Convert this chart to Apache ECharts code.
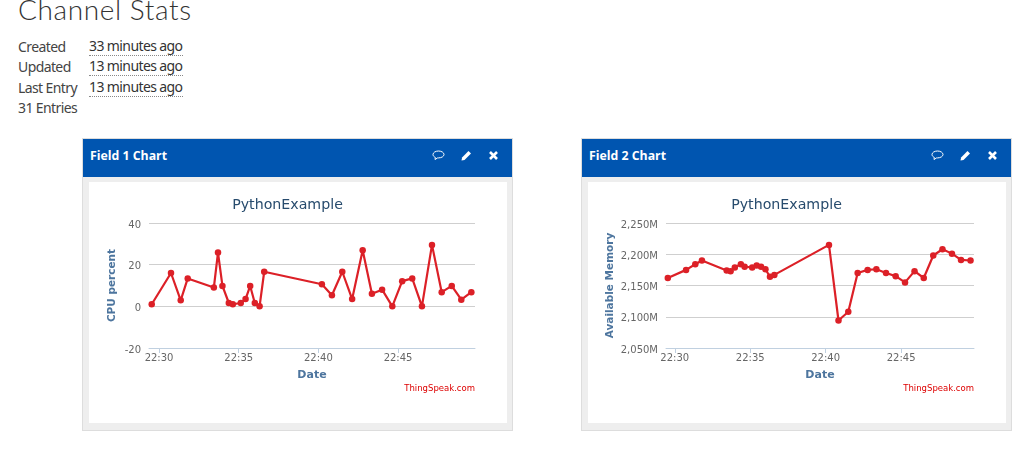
<!DOCTYPE html>
<html>
<head>
<meta charset="UTF-8">
<title>Channel Stats</title>
<script src="https://cdn.jsdelivr.net/npm/echarts@6/dist/echarts.min.js"></script>
<style type="text/css">
	html, body {
		margin: 0;
		padding: 0;
		width: 1024px;
		height: 452px;
		overflow: hidden;
		background: #fff;
	}
	h1 {
		position: absolute;
		left: 18px;
		top: -8px;
		margin: 0;
		font: 300 28px/34px Lato, "Noto Sans", sans-serif;
		letter-spacing: 0.6px;
		color: #333;
	}
	.stat {
		position: absolute;
		left: 18px;
		font: 14px/20px "Noto Sans", sans-serif;
		letter-spacing: -0.6px;
		color: #444;
	}
	.stat span {
		position: absolute;
		left: 71px;
		top: 0;
		white-space: nowrap;
		color: #333;
		border-bottom: 1px dotted #888;
		line-height: 18px;
	}
	.panel {
		position: absolute;
		top: 138px;
		width: 429px;
		height: 291px;
		background: #eee;
		border: 1px solid #ddd;
	}
	.head {
		height: 38px;
		background: #0055b0;
		color: #fff;
		font: bold 12.3px/34px "Open Sans", sans-serif;
		padding-left: 7px;
		position: relative;
	}
	.head svg {
		position: absolute;
		top: 10px;
	}
	.chart {
		position: absolute;
		left: 6px;
		top: 43px;
		width: 418px;
		height: 241px;
		background: #fff;
	}
</style>
</head>
<body>
	<h1>Channel Stats</h1>
	<div class="stat" style="top:37px">Created<span>33 minutes ago</span></div>
	<div class="stat" style="top:57px">Updated<span>13 minutes ago</span></div>
	<div class="stat" style="top:78px">Last Entry<span>13 minutes ago</span></div>
	<div class="stat" style="top:98px">31 Entries</div>

	<div class="panel" style="left:82px">
		<div class="head">Field 1 Chart
			<svg style="left:349px" width="13" height="13" viewBox="0 0 13 13"><path d="M6.5 2C3.5 2 1 3.5 1 5.5c0 1.3 1 2.3 2.3 2.9L3 10.5l2.6-1.6h.9c3 0 5.500-1.500 5.500-3.400S9.500 2 6.500 2z" fill="none" stroke="#fff"/></svg>
			<svg style="left:377px" width="13" height="13" viewBox="0 0 13 13"><path d="M1.500 11.500l.6-3L8.500 2l2.500 2.500L4.500 11z" fill="#fff"/></svg>
			<svg style="left:404px" width="13" height="13" viewBox="0 0 13 13"><path d="M3 3l7 7M10 3l-7 7" stroke="#fff" stroke-width="2.600"/></svg>
		</div>
		<div class="chart" id="field1"></div>
	</div>
	<div class="panel" style="left:581px">
		<div class="head">Field 2 Chart
			<svg style="left:349px" width="13" height="13" viewBox="0 0 13 13"><path d="M6.5 2C3.5 2 1 3.5 1 5.5c0 1.3 1 2.3 2.3 2.9L3 10.5l2.6-1.6h.9c3 0 5.500-1.500 5.500-3.400S9.500 2 6.500 2z" fill="none" stroke="#fff"/></svg>
			<svg style="left:377px" width="13" height="13" viewBox="0 0 13 13"><path d="M1.500 11.500l.6-3L8.500 2l2.500 2.500L4.500 11z" fill="#fff"/></svg>
			<svg style="left:404px" width="13" height="13" viewBox="0 0 13 13"><path d="M3 3l7 7M10 3l-7 7" stroke="#fff" stroke-width="2.600"/></svg>
		</div>
		<div class="chart" id="field2"></div>
	</div>

	<script type="text/javascript">
		//minutes after 22:00 for each entry
		var entryMinutes = [29.54, 30.75, 31.36, 31.8, 33.44, 33.7, 33.98, 34.38, 34.63, 35.13, 35.43, 35.72, 36.01, 36.31, 36.6,
			40.22, 40.85, 41.5, 42.12, 42.78, 43.36, 44.0, 44.64, 45.26, 45.89, 46.5, 47.13, 47.74, 48.37, 48.97, 49.6];
		var cpuPercent = [1, 16, 2.9, 13.4, 9, 25.8, 9.8, 1.6, 1, 1.6, 3.5, 9.8, 1.6, 0, 16.6,
			10.6, 5.3, 16.6, 3.5, 26.9, 6, 8, 0, 12.1, 13.4, 0, 29.5, 6.8, 9.8, 3.2, 6.8];
		var availableMemory = [2162, 2175, 2184, 2190, 2174, 2173, 2179, 2184, 2180, 2179, 2182, 2180, 2176, 2164, 2167,
			2215, 2094, 2108, 2170, 2175, 2176, 2170, 2165, 2155, 2173, 2162, 2198, 2208, 2201, 2191, 2190];
		var timeTicks = [30, 35, 40, 45];

		function pairs(ys) {
			return entryMinutes.map(function(m, i) {
				return [m, ys[i]];
			});
		}

		function makeChart(id, cfg) {
			var myChart = echarts.init(document.getElementById(id));
			myChart.setOption({
				animation: false,
				title: [{
					text: 'PythonExample',
					left: 193.5,
					top: 11,
					textAlign: 'center',
					textStyle: {
						color: '#274b6d',
						fontFamily: 'DejaVu Sans',
						fontWeight: 'normal',
						fontSize: 14.2
					}
				}, {
					text: 'ThingSpeak.com',
					right: 27,
					top: 197,
					textStyle: {
						color: '#dd0000',
						fontFamily: 'DejaVu Sans',
						fontWeight: 'normal',
						fontSize: 8.5
					}
				}],
				grid: {
					left: cfg.left,
					right: 32,
					top: 41,
					bottom: 75
				},
				xAxis: {
					type: 'value',
					min: cfg.xMin,
					max: 49.83,
					name: 'Date',
					nameLocation: 'middle',
					nameGap: 22,
					nameTextStyle: {
						color: '#4d759e',
						fontFamily: 'DejaVu Sans',
						fontWeight: 'bold',
						fontSize: 11
					},
					axisLine: {
						onZero: false,
						lineStyle: {
							color: '#c0d0e0'
						}
					},
					axisTick: {
						show: true,
						length: 5,
						customValues: timeTicks,
						lineStyle: {
							color: '#c0d0e0'
						}
					},
					axisLabel: {
						customValues: timeTicks,
						margin: 5,
						color: '#666',
						fontFamily: 'DejaVu Sans',
						fontSize: 10,
						formatter: function(v) {
							return '22:' + v;
						}
					},
					splitLine: {
						show: false
					}
				},
				yAxis: {
					type: 'value',
					min: cfg.yMin,
					max: cfg.yMax,
					interval: cfg.yStep,
					name: cfg.yName,
					nameLocation: 'middle',
					nameGap: cfg.nameGap,
					nameMoveOverlap: false,
					nameTextStyle: {
						color: '#4d759e',
						fontFamily: 'DejaVu Sans',
						fontWeight: 'bold',
						fontSize: 10.5
					},
					axisLine: {
						show: false
					},
					axisTick: {
						show: false
					},
					axisLabel: {
						margin: 8,
						verticalAlign: 'top',
						lineHeight: 4,
						color: '#666',
						fontFamily: 'DejaVu Sans',
						fontSize: 10,
						formatter: cfg.yLabel
					},
					splitLine: {
						lineStyle: {
							color: '#cfcfcf',
							width: 1.2
						}
					}
				},
				series: [{
					type: 'line',
					data: pairs(cfg.values),
					symbol: 'circle',
					symbolSize: 6.5,
					itemStyle: {
						color: '#dc2027'
					},
					lineStyle: {
						color: '#dc2027',
						width: 2.2
					}
				}]
			});
		}

		makeChart('field1', {
			left: 60,
			nameGap: 31,
			xMin: 29.37,
			yMin: -20,
			yMax: 40,
			yStep: 20,
			yName: 'CPU percent',
			values: cpuPercent,
			yLabel: '{value}'
		});
		makeChart('field2', {
			left: 78,
			nameGap: 50,
			xMin: 29.42,
			yMin: 2050,
			yMax: 2250,
			yStep: 50,
			yName: 'Available Memory',
			values: availableMemory,
			yLabel: function(v) {
				return String(v).replace(/(\d)(\d{3})$/, '$1,$2') + 'M';
			}
		});
	</script>
</body>
</html>
